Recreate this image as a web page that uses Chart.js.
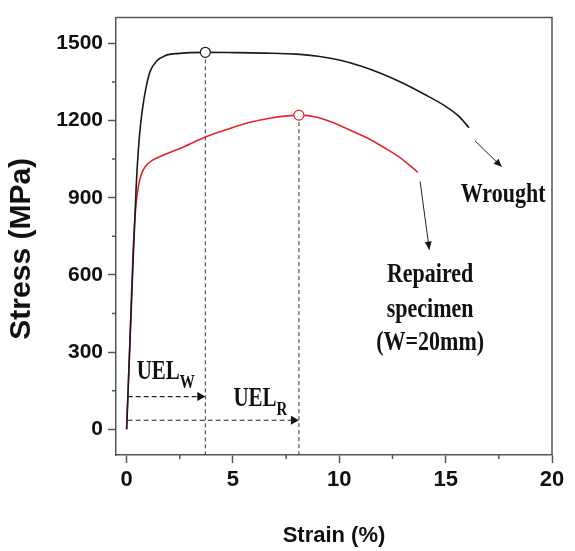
<!DOCTYPE html>
<html>
<head>
<meta charset="utf-8">
<script src="https://cdn.jsdelivr.net/npm/chart.js@4.4.1/dist/chart.umd.min.js"></script>
<style>
  html, body { margin: 0; padding: 0; background: #ffffff; }
  #wrap { width: 575px; height: 551px; }
</style>
</head>
<body>
<div id="wrap"><canvas id="c" width="575" height="551"></canvas></div>
<script>
// ---------- data ----------
const wroughtStrain = [0, 0.25, 0.45, 0.55, 0.65, 0.75, 0.9, 1.1, 1.4, 1.8, 2.5, 3.7, 5.0, 6.5, 8.0, 9.0, 10.0, 11.0, 12.0, 13.0, 14.0, 15.0, 15.6, 16.1];
const wroughtStress = [0, 540, 945, 1085, 1180, 1248, 1323, 1390, 1430, 1452, 1461, 1465, 1464, 1462, 1458, 1450, 1435, 1412, 1382, 1345, 1302, 1255, 1218, 1172];

const repairedStrain = [0, 0.15, 0.3, 0.42, 0.55, 0.7, 0.9, 1.2, 1.8, 2.7, 3.7, 4.7, 5.7, 6.8, 8.1, 9.0, 9.7, 10.5, 11.3, 12.1, 12.9, 13.7];
const repairedStress = [0, 335, 685, 853, 943, 993, 1023, 1045, 1068, 1098, 1136, 1165, 1191, 1210, 1221, 1212, 1192, 1163, 1133, 1095, 1053, 998];

// ultimate tensile strength points (wrought, repaired)
const utsStrain = [3.7, 8.1];
const utsStress = [1465, 1221];

// uniform elongation arrows (wrought, repaired)
const uelStress = [127, 35];
const uelLabels = ['W', 'R'];
const uelLabelStrain = [0.47, 5.02];
const uelLabelStress = [196, 89];

// pointer arrows to the curve labels (wrought, repaired)
const pointerFromStrain = [16.38, 13.8];
const pointerFromStress = [1121, 963];
const pointerToStrain = [17.64, 14.23];
const pointerToStress = [1020, 698];

// curve labels
const wroughtLabel = 'Wrought';
const wroughtLabelStrain = 17.7;
const wroughtLabelStress = 884;
const repairedLabel = ['Repaired', 'specimen', '(W=20mm)'];
const repairedLabelStrain = 14.27;
const repairedLabelStress = [574, 438, 309];

// axes
const xTicks = [0, 5, 10, 15, 20];
const xMinorTicks = [2.5, 7.5, 12.5, 17.5];
const yTicks = [0, 300, 600, 900, 1200, 1500];
const yMinorTicks = [150, 450, 750, 1050, 1350];
const xMin = -0.5, xMax = 20;
const yMin = -100, yMax = 1600;

// ---------- helpers ----------
const zip = (xs, ys) => xs.map((x, i) => ({ x: x, y: ys[i] }));
const AXIS_COLOR = '#555555';
const TEXT_COLOR = '#111111';
const SERIF = '"Liberation Serif", "Times New Roman", serif';
const SANS = '"Liberation Sans", Arial, sans-serif';

function scaledText(ctx, text, x, y, size, align, sy) {
  ctx.save();
  ctx.translate(x, y);
  ctx.scale(1, sy);
  ctx.font = 'bold ' + size + 'px ' + SERIF;
  ctx.textAlign = align;
  ctx.textBaseline = 'alphabetic';
  ctx.fillStyle = TEXT_COLOR;
  ctx.fillText(text, 0, 0);
  const w = ctx.measureText(text).width;
  ctx.restore();
  return w;
}

function arrowHead(ctx, x0, y0, x1, y1, len, half) {
  const a = Math.atan2(y1 - y0, x1 - x0);
  ctx.save();
  ctx.translate(x1, y1);
  ctx.rotate(a);
  ctx.beginPath();
  ctx.moveTo(0, 0);
  ctx.lineTo(-len, -half);
  ctx.lineTo(-len, half);
  ctx.closePath();
  ctx.fillStyle = '#111';
  ctx.fill();
  ctx.restore();
}

const decorPlugin = {
  id: 'decor',
  afterDatasetsDraw(chart) {
    const ctx = chart.ctx;
    const xs = chart.scales.x, ys = chart.scales.y;
    const px = v => xs.getPixelForValue(v);
    const py = v => ys.getPixelForValue(v);

    for (let i = 0; i < utsStrain.length; i++) {
      arrowHead(ctx, px(0), py(uelStress[i]), px(utsStrain[i]), py(uelStress[i]), 8, 4.5);
    }
    for (let i = 0; i < pointerFromStrain.length; i++) {
      arrowHead(ctx, px(pointerFromStrain[i]), py(pointerFromStress[i]),
        px(pointerToStrain[i]), py(pointerToStress[i]), 8, 3.5);
    }

    const SY = 1.25;
    scaledText(ctx, wroughtLabel, px(wroughtLabelStrain), py(wroughtLabelStress), 22, 'center', SY);
    for (let i = 0; i < repairedLabel.length; i++) {
      scaledText(ctx, repairedLabel[i], px(repairedLabelStrain), py(repairedLabelStress[i]), 22, 'center', SY);
    }
    for (let i = 0; i < uelLabels.length; i++) {
      const x = px(uelLabelStrain[i]);
      const y = py(uelLabelStress[i]);
      const w = scaledText(ctx, 'UEL', x, y, 21, 'left', 1.28);
      scaledText(ctx, uelLabels[i], x + w, y + 9, 15, 'left', 1.28);
    }
  },
  afterDraw(chart) {
    const ctx = chart.ctx;
    const a = chart.chartArea;
    const xs = chart.scales.x, ys = chart.scales.y;
    ctx.save();
    ctx.strokeStyle = AXIS_COLOR;
    ctx.lineWidth = 1.5;
    ctx.beginPath();
    ctx.moveTo(a.left, a.top);
    ctx.lineTo(a.right, a.top);
    ctx.lineTo(a.right, a.bottom);
    ctx.stroke();
    ctx.beginPath();
    xMinorTicks.forEach(v => {
      const x = xs.getPixelForValue(v);
      ctx.moveTo(x, a.bottom);
      ctx.lineTo(x, a.bottom + 4);
    });
    yMinorTicks.forEach(v => {
      const y = ys.getPixelForValue(v);
      ctx.moveTo(a.left, y);
      ctx.lineTo(a.left - 4, y);
    });
    ctx.stroke();
    ctx.restore();
  }
};

const datasets = [
  {
    label: 'UTS',
    data: zip(utsStrain, utsStress),
    showLine: false,
    pointRadius: 5,
    pointHoverRadius: 5,
    pointBackgroundColor: '#ffffff',
    pointBorderColor: ['#1a1a1a', '#e3262b'],
    pointBorderWidth: 1.2,
    order: 0
  },
  {
    label: 'Wrought',
    data: zip(wroughtStrain, wroughtStress),
    borderColor: '#1a1a1a',
    borderWidth: 1.6,
    pointRadius: 0,
    cubicInterpolationMode: 'monotone',
    order: 1
  },
  {
    label: 'Repaired specimen (W=20mm)',
    data: zip(repairedStrain, repairedStress),
    borderColor: '#e3262b',
    borderWidth: 1.6,
    pointRadius: 0,
    cubicInterpolationMode: 'monotone',
    order: 2
  }
];

utsStrain.forEach((s, i) => {
  datasets.push({
    label: 'UTS line ' + i,
    data: [{ x: s, y: utsStress[i] }, { x: s, y: yMin }],
    borderColor: '#333333',
    borderWidth: 1,
    borderDash: [4, 3],
    pointRadius: 0,
    order: 3
  });
});
utsStrain.forEach((s, i) => {
  datasets.push({
    label: 'UEL ' + uelLabels[i],
    data: [{ x: 0.05, y: uelStress[i] }, { x: s - 0.2, y: uelStress[i] }],
    borderColor: '#222222',
    borderWidth: 1.2,
    borderDash: [5, 3],
    pointRadius: 0,
    order: 3
  });
});
pointerFromStrain.forEach((s, i) => {
  datasets.push({
    label: 'pointer ' + i,
    data: [{ x: s, y: pointerFromStress[i] }, { x: pointerToStrain[i], y: pointerToStress[i] }],
    borderColor: '#222222',
    borderWidth: 1,
    pointRadius: 0,
    order: 3
  });
});

new Chart(document.getElementById('c'), {
  type: 'line',
  data: { datasets: datasets },
  options: {
    responsive: false,
    animation: false,
    devicePixelRatio: 1,
    layout: { padding: { top: 6, right: 23, left: 0, bottom: 0 } },
    plugins: { legend: { display: false }, tooltip: { enabled: false } },
    scales: {
      x: {
        type: 'linear',
        min: xMin,
        max: xMax,
        afterBuildTicks: s => { s.ticks = xTicks.map(v => ({ value: v })); },
        afterFit: s => { s.height = 96; },
        ticks: {
          font: { family: SANS, size: 22, weight: 'bold' },
          color: TEXT_COLOR,
          padding: 4,
          maxRotation: 0,
          callback: v => String(v)
        },
        grid: { drawOnChartArea: false, drawTicks: true, tickLength: 8, tickColor: AXIS_COLOR, tickWidth: 1.5 },
        border: { display: true, color: AXIS_COLOR, width: 1.5 },
        title: {
          display: true,
          text: 'Strain (%)',
          color: TEXT_COLOR,
          font: { family: SANS, size: 22, weight: 'bold' },
          padding: { top: 0, bottom: 2 }
        }
      },
      y: {
        type: 'linear',
        min: yMin,
        max: yMax,
        afterBuildTicks: s => { s.ticks = yTicks.map(v => ({ value: v })); },
        afterFit: s => { s.width = 116; },
        ticks: {
          font: { family: SANS, size: 21, weight: 'bold' },
          color: TEXT_COLOR,
          padding: 5,
          callback: v => String(v)
        },
        grid: { drawOnChartArea: false, drawTicks: true, tickLength: 8, tickColor: AXIS_COLOR, tickWidth: 1.5 },
        border: { display: true, color: AXIS_COLOR, width: 1.5 },
        title: {
          display: true,
          text: 'Stress (MPa)   ',
          color: TEXT_COLOR,
          font: { family: SANS, size: 30, weight: 'bold' },
          padding: { top: 4, bottom: 0 }
        }
      }
    }
  },
  plugins: [decorPlugin]
});
</script>
</body>
</html>
